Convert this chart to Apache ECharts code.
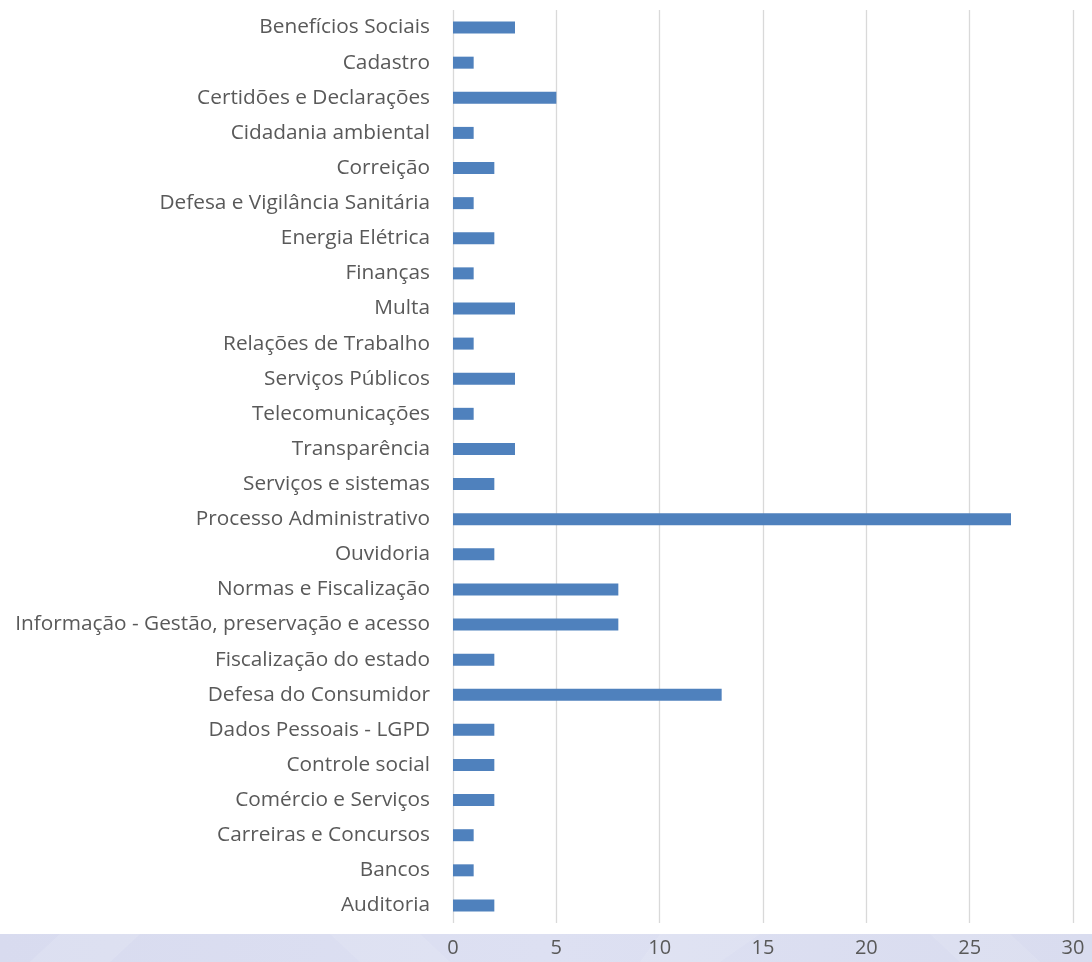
<!DOCTYPE html>
<html><head><meta charset="utf-8">
<script src="https://cdn.jsdelivr.net/npm/echarts@6/dist/echarts.min.js"></script>
<style>html,body{margin:0;padding:0;background:#fff}#c{width:1092px;height:962px}</style>
</head><body><div id="c"></div>
<script>
const categories = ["Auditoria","Bancos","Carreiras e Concursos","Comércio e Serviços","Controle social","Dados Pessoais - LGPD","Defesa do Consumidor","Fiscalização do estado","Informação - Gestão, preservação e acesso","Normas e Fiscalização","Ouvidoria","Processo Administrativo","Serviços e sistemas","Transparência","Telecomunicações","Serviços Públicos","Relações de Trabalho","Multa","Finanças","Energia Elétrica","Defesa e Vigilância Sanitária","Correição","Cidadania ambiental","Certidões e Declarações","Cadastro","Benefícios Sociais"];
const values = [2,1,1,2,2,2,13,2,8,8,2,27,2,3,1,3,1,3,1,2,1,2,1,5,1,3];
const xTicks = {min:0, max:30, interval:5};

const chart = echarts.init(document.getElementById('c'));
const font = '"Open Sans", sans-serif';
chart.setOption({
  animation:false,
  graphic:[
    {type:'rect', z:-10, shape:{x:0,y:934,width:1092,height:28},
     style:{fill:new echarts.graphic.LinearGradient(0,0,1,0,[{offset:0,color:'#d8dbef'},{offset:0.5,color:'#dde0f2'},{offset:1,color:'#d9dcef'}])}},
    {type:'polygon', z:-9, shape:{points:[[60,934],[140,934],[110,962],[30,962]]}, style:{fill:'rgba(255,255,255,0.12)'}},
    {type:'polygon', z:-9, shape:{points:[[330,934],[420,934],[450,962],[360,962]]}, style:{fill:'rgba(255,255,255,0.1)'}},
    {type:'polygon', z:-9, shape:{points:[[660,934],[760,934],[720,962],[640,962]]}, style:{fill:'rgba(255,255,255,0.1)'}},
    {type:'polygon', z:-9, shape:{points:[[930,934],[1010,934],[1040,962],[960,962]]}, style:{fill:'rgba(255,255,255,0.1)'}}
  ],
  grid:{left:453, right:19, top:10, bottom:39, containLabel:false},
  xAxis:{type:'value', min:xTicks.min, max:xTicks.max, interval:xTicks.interval,
    axisLine:{show:false}, axisTick:{show:false},
    splitLine:{show:true, lineStyle:{color:'#d9d9d9', width:1.3}},
    axisLabel:{color:'#595959', fontFamily:font, fontSize:20, margin:15}},
  yAxis:{type:'category', data:categories,
    axisLine:{show:false}, axisTick:{show:false},
    axisLabel:{color:'#595959', fontFamily:font, fontSize:20.8, margin:23}},
  series:[{type:'bar', data:values, barWidth:12, itemStyle:{color:'#4f81bd'}}]
});
</script></body></html>
